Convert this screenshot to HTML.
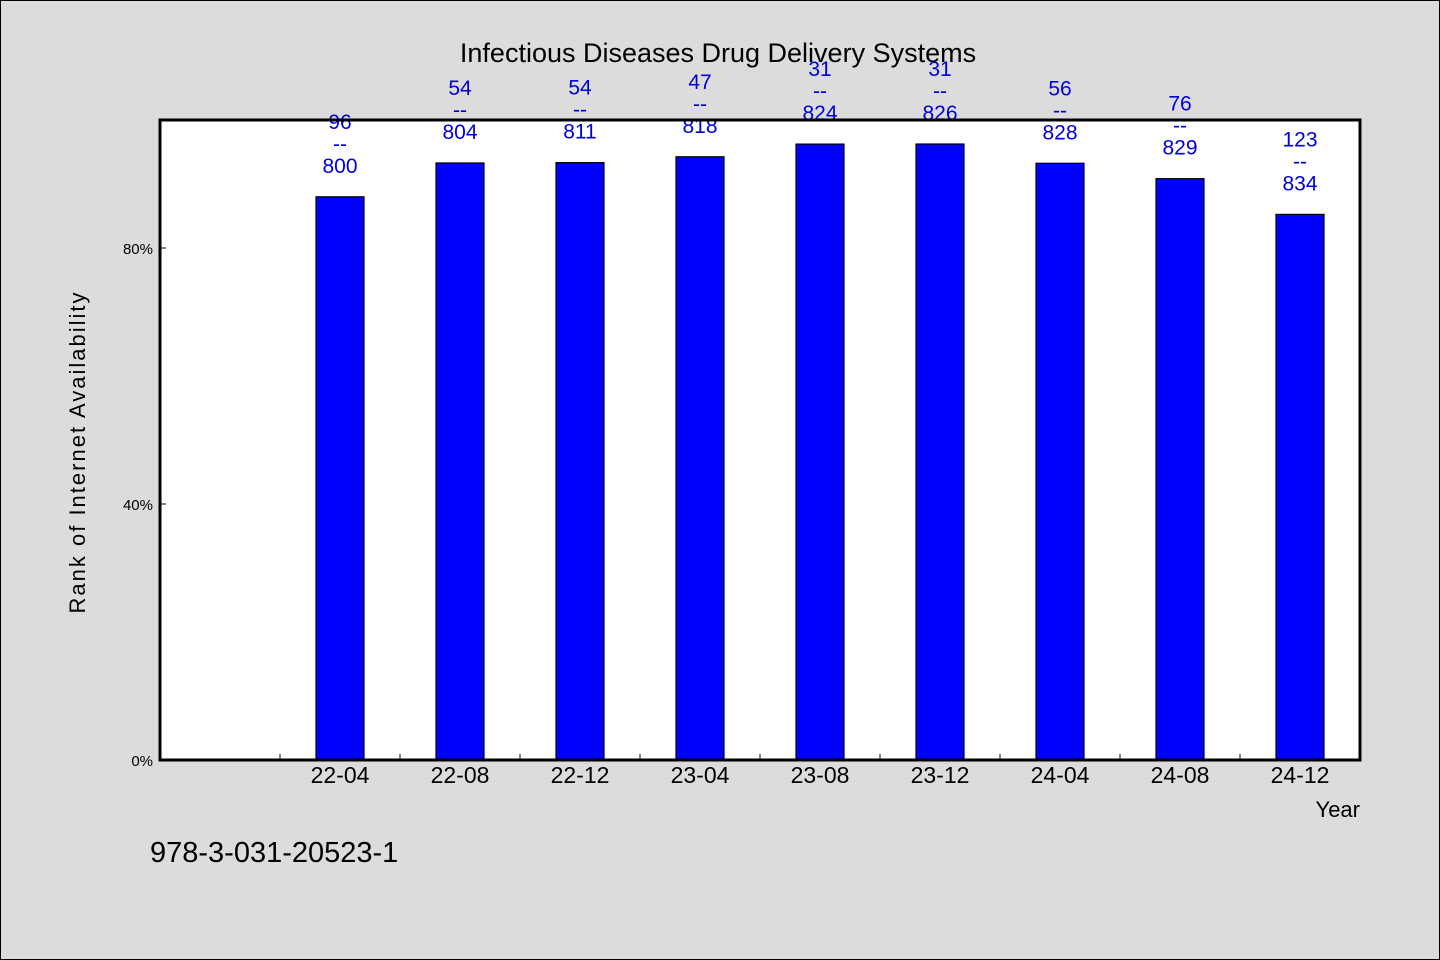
<!DOCTYPE html>
<html><head><meta charset="utf-8"><style>
html,body{margin:0;padding:0;background:#dcdcdc;}
svg{display:block;font-family:"WenQuanYi Zen Hei","Liberation Sans",sans-serif;}
</style></head><body>
<svg id="chart" width="1440" height="960">
<rect x="0.5" y="0.5" width="1439" height="959" fill="#dcdcdc" stroke="#000"/>
<rect x="160" y="120" width="1200" height="640" fill="#fff"/>
<g id="bars"></g>
<g id="ticks"></g>
<rect x="160" y="120" width="1200" height="640" fill="none" stroke="#000" stroke-width="3"/>
<text x="718" y="62" text-anchor="middle" font-size="27">Infectious Diseases Drug Delivery Systems</text>
<text transform="translate(85,452) rotate(-90)" text-anchor="middle" font-size="22" letter-spacing="2">Rank of Internet Availability</text>
<text x="1360" y="817" text-anchor="end" font-size="22">Year</text>
<text x="150" y="862" font-size="29">978-3-031-20523-1</text>
</svg>
<script>
const categories=["22-04","22-08","22-12","23-04","23-08","23-12","24-04","24-08","24-12"];
const ranks=[96,54,54,47,31,31,56,76,123];
const totals=[800,804,811,818,824,826,828,829,834];
const yTicks=[0,40,80];
const NS="http://www.w3.org/2000/svg";
const X0=160,SLOT=120,Y0=760,PPU=6.4,BW=48;
const xc=i=>X0+SLOT*(i+1)+SLOT/2;
const y=v=>Y0-v*PPU;
const bars=document.getElementById('bars'),ticks=document.getElementById('ticks');
function mk(t,a,p){const e=document.createElementNS(NS,t);for(const k in a)e.setAttribute(k,a[k]);p.appendChild(e);return e;}
categories.forEach((c,i)=>{
  const v=(1-ranks[i]/totals[i])*100;
  const r=mk('rect',{x:xc(i)-BW/2,y:y(v),width:BW,height:Y0-y(v),fill:'#0000ff',stroke:'#000','stroke-width':1.2},bars);
  
  
  const lines=[String(ranks[i]),'--',String(totals[i])];
  lines.forEach((s,j)=>{
    const t=mk('text',{x:xc(i),y:y(v)-24-(2-j)*22,'text-anchor':'middle','font-size':21,fill:'#0000dd'},bars);
    t.textContent=s;
    
    
  });
  const tl=mk('text',{x:xc(i),y:783,'text-anchor':'middle','font-size':23},ticks);
  tl.textContent=c;
  
  
});
for(let k=1;k<10;k++){
  const l=mk('line',{x1:X0+SLOT*k,x2:X0+SLOT*k,y1:Y0,y2:Y0-6,stroke:'#000','stroke-width':1},ticks);
  
  
}
yTicks.forEach(v=>{
  const l=mk('line',{x1:X0,x2:X0+6,y1:y(v),y2:y(v),stroke:'#000','stroke-width':1},ticks);
  
  
  const t=mk('text',{x:153,y:y(v)+6,'text-anchor':'end','font-size':15},ticks);
  t.textContent=v+'%';
  
  
});
</script>
</body></html>
